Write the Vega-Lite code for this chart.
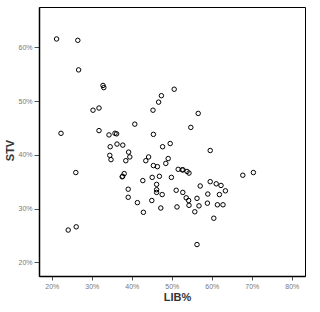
{
  "$schema": "https://vega.github.io/schema/vega-lite/v6.json",
  "autosize": "none",
  "width": 266,
  "height": 269,
  "padding": {"left": 39, "top": 7, "right": 15, "bottom": 36},
  "background": "white",
  "config": {
    "view": {"stroke": "black", "strokeWidth": 1},
    "font": "Liberation Sans"
  },
  "data": {
    "values": [
      {"LIB": 0.212, "STV": 0.6155}, {"LIB": 0.265, "STV": 0.613}, {"LIB": 0.267, "STV": 0.558},
      {"LIB": 0.328, "STV": 0.529}, {"LIB": 0.330, "STV": 0.525}, {"LIB": 0.506, "STV": 0.522},
      {"LIB": 0.474, "STV": 0.510}, {"LIB": 0.467, "STV": 0.498}, {"LIB": 0.453, "STV": 0.483},
      {"LIB": 0.303, "STV": 0.483}, {"LIB": 0.318, "STV": 0.487}, {"LIB": 0.566, "STV": 0.477},
      {"LIB": 0.4075, "STV": 0.457}, {"LIB": 0.5475, "STV": 0.451}, {"LIB": 0.223, "STV": 0.440},
      {"LIB": 0.318, "STV": 0.445}, {"LIB": 0.343, "STV": 0.437}, {"LIB": 0.358, "STV": 0.440},
      {"LIB": 0.362, "STV": 0.439}, {"LIB": 0.454, "STV": 0.438}, {"LIB": 0.363, "STV": 0.420},
      {"LIB": 0.3775, "STV": 0.418}, {"LIB": 0.346, "STV": 0.415}, {"LIB": 0.477, "STV": 0.415},
      {"LIB": 0.496, "STV": 0.421}, {"LIB": 0.596, "STV": 0.408}, {"LIB": 0.392, "STV": 0.405},
      {"LIB": 0.345, "STV": 0.399}, {"LIB": 0.348, "STV": 0.391}, {"LIB": 0.395, "STV": 0.396},
      {"LIB": 0.442, "STV": 0.396}, {"LIB": 0.385, "STV": 0.389}, {"LIB": 0.435, "STV": 0.389},
      {"LIB": 0.491, "STV": 0.393}, {"LIB": 0.454, "STV": 0.380}, {"LIB": 0.464, "STV": 0.378},
      {"LIB": 0.485, "STV": 0.384}, {"LIB": 0.260, "STV": 0.367}, {"LIB": 0.381, "STV": 0.365},
      {"LIB": 0.377, "STV": 0.360}, {"LIB": 0.376, "STV": 0.359}, {"LIB": 0.516, "STV": 0.373},
      {"LIB": 0.526, "STV": 0.372}, {"LIB": 0.528, "STV": 0.372}, {"LIB": 0.538, "STV": 0.369},
      {"LIB": 0.543, "STV": 0.366}, {"LIB": 0.6775, "STV": 0.362}, {"LIB": 0.704, "STV": 0.367},
      {"LIB": 0.4275, "STV": 0.352}, {"LIB": 0.451, "STV": 0.358}, {"LIB": 0.469, "STV": 0.360},
      {"LIB": 0.499, "STV": 0.358}, {"LIB": 0.571, "STV": 0.342}, {"LIB": 0.596, "STV": 0.350},
      {"LIB": 0.611, "STV": 0.346}, {"LIB": 0.623, "STV": 0.343}, {"LIB": 0.634, "STV": 0.333},
      {"LIB": 0.462, "STV": 0.345}, {"LIB": 0.391, "STV": 0.336}, {"LIB": 0.462, "STV": 0.335},
      {"LIB": 0.462, "STV": 0.330}, {"LIB": 0.511, "STV": 0.334}, {"LIB": 0.5275, "STV": 0.330},
      {"LIB": 0.476, "STV": 0.326}, {"LIB": 0.590, "STV": 0.327}, {"LIB": 0.619, "STV": 0.326},
      {"LIB": 0.391, "STV": 0.321}, {"LIB": 0.536, "STV": 0.320}, {"LIB": 0.563, "STV": 0.319},
      {"LIB": 0.542, "STV": 0.315}, {"LIB": 0.450, "STV": 0.315}, {"LIB": 0.414, "STV": 0.311},
      {"LIB": 0.589, "STV": 0.310}, {"LIB": 0.543, "STV": 0.306}, {"LIB": 0.568, "STV": 0.305},
      {"LIB": 0.614, "STV": 0.307}, {"LIB": 0.628, "STV": 0.307}, {"LIB": 0.513, "STV": 0.303},
      {"LIB": 0.4725, "STV": 0.301}, {"LIB": 0.5575, "STV": 0.294}, {"LIB": 0.429, "STV": 0.293},
      {"LIB": 0.605, "STV": 0.282}, {"LIB": 0.241, "STV": 0.260}, {"LIB": 0.261, "STV": 0.266},
      {"LIB": 0.563, "STV": 0.233}
    ]
  },
  "mark": {"type": "point", "shape": "circle", "filled": false, "color": "black", "strokeWidth": 1, "size": 20, "opacity": 1},
  "encoding": {
    "x": {
      "field": "LIB", "type": "quantitative",
      "scale": {"domain": [0.168, 0.833], "nice": false, "zero": false},
      "axis": {
        "title": "LIB%", "format": ".0%", "values": [0.2, 0.3, 0.4, 0.5, 0.6, 0.7, 0.8],
        "grid": false, "domainColor": "black", "domainWidth": 1.5,
        "tickColor": "#555", "tickSize": 4, "labelFontSize": 7, "labelColor": "#777",
        "labelPadding": 2, "titleFontSize": 11, "titleFontWeight": "bold", "titleColor": "#333", "titlePadding": 2,
        "titleX": 138
      }
    },
    "y": {
      "field": "STV", "type": "quantitative",
      "scale": {"domain": [0.1745, 0.675], "nice": false, "zero": false},
      "axis": {
        "title": "STV", "format": ".0%", "values": [0.2, 0.3, 0.4, 0.5, 0.6],
        "grid": false, "domainColor": "black", "domainWidth": 1.5,
        "tickColor": "#555", "tickSize": 5, "labelFontSize": 7, "labelColor": "#777",
        "labelPadding": 2, "titleFontSize": 11, "titleFontWeight": "bold", "titleColor": "#333", "titlePadding": 2,
        "titleY": 143
      }
    }
  }
}
